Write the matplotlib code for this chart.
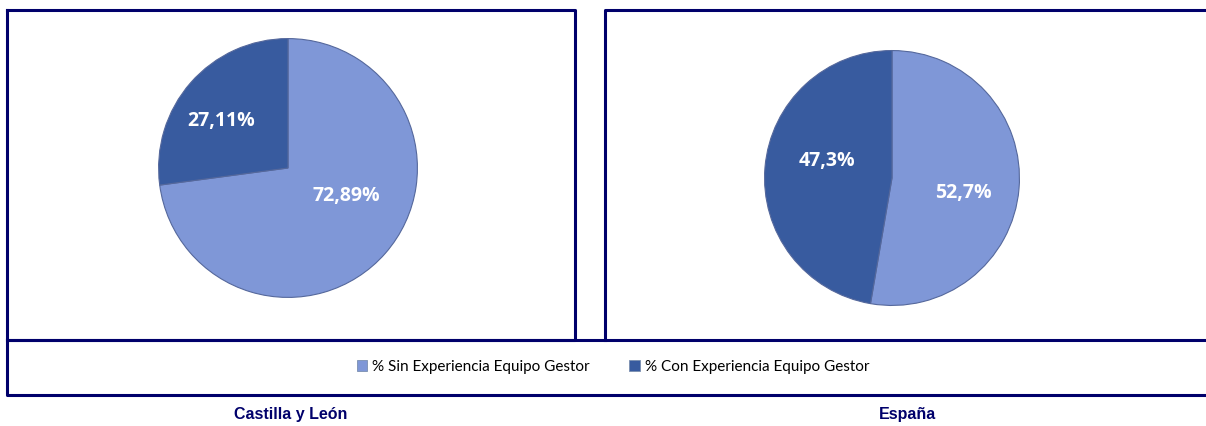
import matplotlib
matplotlib.use("Agg")
import matplotlib.pyplot as plt
from matplotlib.patches import Patch

# data
series = ["% Sin Experiencia Equipo Gestor", "% Con Experiencia Equipo Gestor"]
regions = ["Castilla y León", "España"]
cyl_values = [72.89, 27.11]
esp_values = [52.7, 47.3]
cyl_labels = ["72,89%", "27,11%"]
esp_labels = ["52,7%", "47,3%"]

colors = ["#7F97D7", "#385B9F"]
navy = "#00006B"
W, H = 1206, 426

fig = plt.figure(figsize=(W / 100, H / 100), dpi=100)
fig.patch.set_facecolor("white")

# overlay in pixel coords for the frame lines
bg = fig.add_axes([0, 0, 1, 1])
bg.set_xlim(0, W)
bg.set_ylim(H, 0)
bg.axis("off")
lw = 2.2
bg.plot([7, 575, 575, 7, 7], [10, 10, 340, 340, 10], color=navy, lw=lw, solid_capstyle="projecting")
bg.plot([1206, 605, 605], [10, 10, 340], color=navy, lw=lw, solid_capstyle="projecting")
bg.plot([7, 1206], [340, 340], color=navy, lw=lw)
bg.plot([7, 7, 1206], [340, 395, 395], color=navy, lw=lw, solid_capstyle="projecting")


def pie_axes(cx, cy, r):
    return fig.add_axes([(cx - r) / W, 1 - (cy + r) / H, 2 * r / W, 2 * r / H])


def draw_pie(ax, values, labels, label_pos):
    ax.pie(values, colors=colors, startangle=90, counterclock=False, radius=1.0,
           wedgeprops=dict(edgecolor="#55689c", linewidth=0.8))
    ax.set_xlim(-1.02, 1.02)
    ax.set_ylim(-1.02, 1.02)
    ax.set_aspect("equal")
    ax.axis("off")
    for txt, (x, y) in zip(labels, label_pos):
        ax.text(x, y, txt, color="white", fontsize=14, fontweight="bold",
                family="Open Sans", ha="center", va="center")


ax1 = pie_axes(288, 168, 132)
draw_pie(ax1, cyl_values, cyl_labels, [(0.45, -0.22), (-0.52, 0.36)])

ax2 = pie_axes(892, 178, 130)
draw_pie(ax2, esp_values, esp_labels, [(0.56, -0.12), (-0.51, 0.13)])

handles = [Patch(facecolor=c, edgecolor="#7a8fb0", linewidth=0.6) for c in colors]
fig.legend(handles, series, loc="center", bbox_to_anchor=(613 / W, 1 - 367 / H),
           ncol=2, frameon=False, prop={"family": "Lato", "size": 11},
           handlelength=0.7, handleheight=0.7, handletextpad=0.3, columnspacing=2.6)

fig.text(291 / W, 1 - 414 / H, regions[0], color=navy, fontsize=11.5, fontweight="bold",
         family="Liberation Sans", ha="center", va="center")
fig.text(908 / W, 1 - 414 / H, regions[1], color=navy, fontsize=11.5, fontweight="bold",
         family="Liberation Sans", ha="center", va="center")

fig.savefig("out.png", dpi=100, facecolor="white")
